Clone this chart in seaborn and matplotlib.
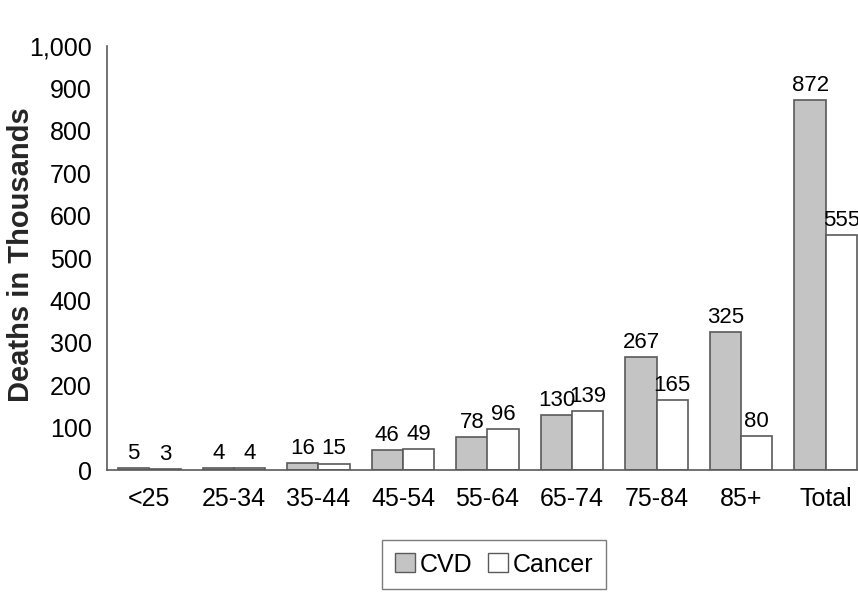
import seaborn as sns
import matplotlib.pyplot as plt
import pandas as pd
from matplotlib.ticker import FuncFormatter, FixedLocator
from matplotlib.patches import Patch

# 数据
ages = ['<25', '25-34', '35-44', '45-54', '55-64', '65-74', '75-84', '85+', 'Total']
cvd = [5, 4, 16, 46, 78, 130, 267, 325, 872]
cancer = [3, 4, 15, 49, 96, 139, 165, 80, 555]

df = pd.DataFrame({
    'age': ages * 2,
    'deaths': cvd + cancer,
    'cause': ['CVD'] * len(ages) + ['Cancer'] * len(ages),
})

sns.set_style('white')
plt.rcParams['font.family'] = ['Liberation Sans Narrow', 'Liberation Sans', 'DejaVu Sans']
plt.rcParams['text.color'] = 'black'
plt.rcParams['xtick.color'] = 'black'
plt.rcParams['ytick.color'] = 'black'

edge = '#5a5a5a'
colors = {'CVD': '#c4c4c4', 'Cancer': '#ffffff'}

fig = plt.figure(figsize=(8.58, 5.93), dpi=100)
ax = fig.add_axes([107 / 858, 123 / 593, 761 / 858, 424 / 593])

sns.barplot(data=df, x='age', y='deaths', hue='cause', palette=colors, width=0.74,
            edgecolor=edge, linewidth=1.2, ax=ax, legend=False)

ax.set_xlim(-0.5, 8.5)
ax.set_ylim(0, 1000)
ax.yaxis.set_major_locator(FixedLocator(range(0, 1001, 100)))
ax.yaxis.set_major_formatter(FuncFormatter(lambda v, p: f'{int(v):,}'))

# 刻度线放在类别之间
ax.set_xticks(range(len(ages)))
ax.set_xticklabels(ages, fontsize=18)
ax.set_xticks([i - 0.5 for i in range(len(ages) + 1)], minor=True)
ax.tick_params(axis='x', which='major', length=0, pad=12)
ax.tick_params(axis='x', which='minor', length=7, width=1.2, color=edge, direction='out')
ax.tick_params(axis='y', length=7, width=1.2, color=edge, direction='out', labelsize=18, pad=4)

for s in ['top', 'right']:
    ax.spines[s].set_visible(False)
for s in ['left', 'bottom']:
    ax.spines[s].set_color(edge)
    ax.spines[s].set_linewidth(1.2)

for c in ax.containers:
    ax.bar_label(c, fontsize=16, padding=3)

ax.set_xlabel('')
ax.set_ylabel('Deaths in Thousands', fontsize=21, fontweight='bold',
              family=['Liberation Sans', 'DejaVu Sans'])
ax.yaxis.set_label_coords(-0.095, 0.507)

handles = [Patch(facecolor=colors[k], edgecolor=edge, label=k) for k in ['CVD', 'Cancer']]
fig.legend(handles=handles, loc='center', bbox_to_anchor=(494 / 858, 1 - 564.5 / 593), ncol=2,
           fontsize=18, frameon=True, fancybox=False, edgecolor=edge, handlelength=0.8,
           handleheight=0.8, handletextpad=0.2, columnspacing=0.6, borderpad=0.5,
           borderaxespad=0)

fig.savefig('out.png', dpi=100)
